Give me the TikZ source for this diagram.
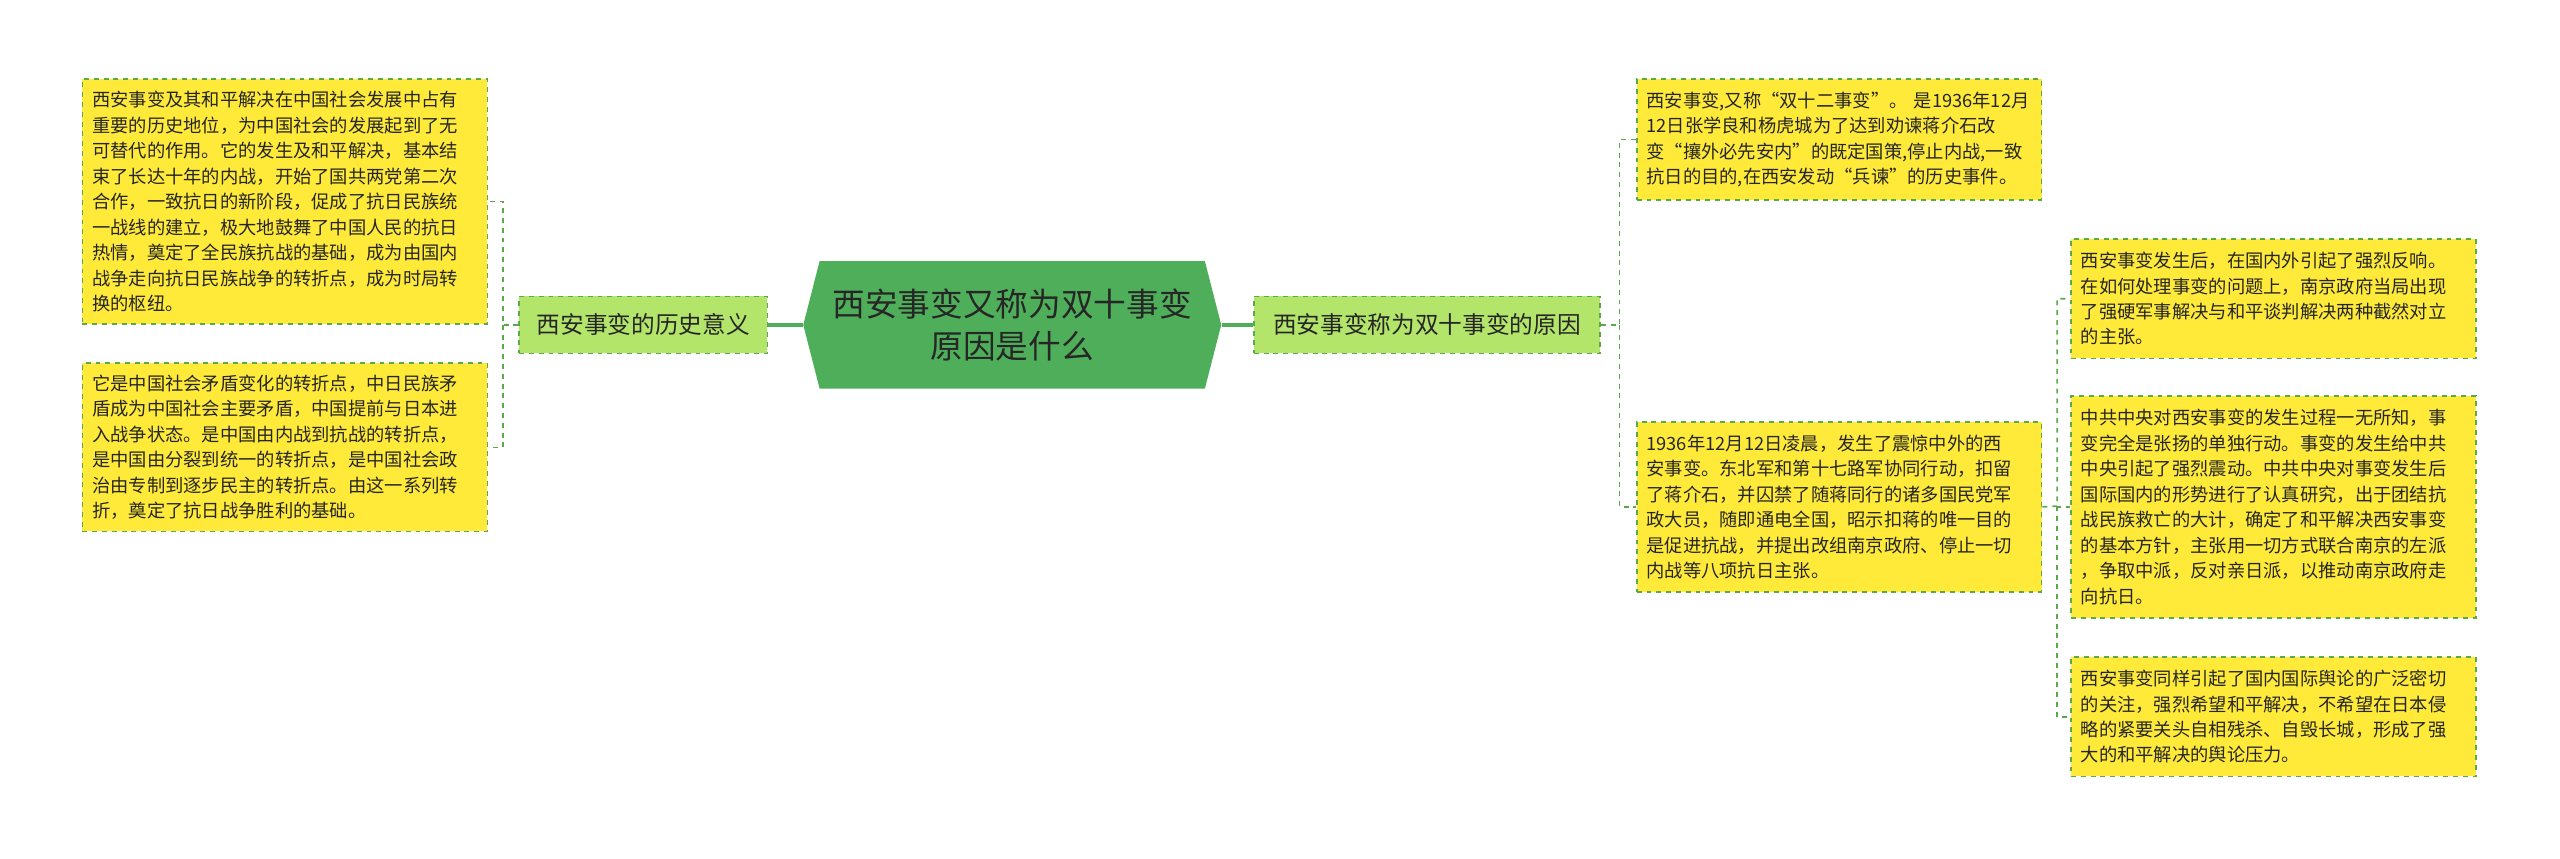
\documentclass[tikz,border=0pt]{standalone}
\usepackage{fontspec}
\setmainfont{Noto Sans CJK SC}
\begin{document}
\begin{tikzpicture}[x=1pt,y=-1pt]
\definecolor{hexg}{HTML}{4FAE5A}
\definecolor{leafy}{HTML}{FFEA3A}
\definecolor{subg}{HTML}{B3E56A}
\definecolor{lineg}{HTML}{5BAA4A}
\tikzset{
  leaf/.style={draw=lineg, dashed, line width=1pt, fill=leafy, text width=236pt, align=left, inner xsep=6pt, inner ysep=0pt, anchor=north west, font=\fontsize{11.2}{15.6}\selectfont, text=black!85},
  sub/.style={draw=lineg, dashed, line width=1pt, fill=subg, minimum height=35pt, inner xsep=8pt, font=\fontsize{14.5}{17}\selectfont, text=black!85},
  con/.style={draw=lineg, dashed, line width=1pt},
  main/.style={draw=hexg, line width=2pt}}
\useasboundingbox (0,0) rectangle (1568,526);
% center
\fill[hexg] (492,199) -- (502,160) -- (738,160) -- (748,199) -- (738,238) -- (502,238) -- cycle;
\node[font=\fontsize{20}{26}\selectfont, align=center, text=black!85, minimum width=256pt, minimum height=78pt, inner sep=0pt] (c) at (620,199) {西安事变又称为双十事变\\原因是什么};
% subs
\node[sub, minimum width=152pt] (hl) at (394,199) {西安事变的历史意义};
\node[sub, minimum width=212pt] (hr) at (874,199) {西安事变称为双十事变的原因};
\draw[main] (c.west) -- (hl.east);
\draw[main] (c.east) -- (hr.west);
% left leaves
\node[leaf, minimum height=150pt] (l1) at (50,48) {西安事变及其和平解决在中国社会发展中占有\\重要的历史地位，为中国社会的发展起到了无\\可替代的作用。它的发生及和平解决，基本结\\束了长达十年的内战，开始了国共两党第二次\\合作，一致抗日的新阶段，促成了抗日民族统\\一战线的建立，极大地鼓舞了中国人民的抗日\\热情，奠定了全民族抗战的基础，成为由国内\\战争走向抗日民族战争的转折点，成为时局转\\换的枢纽。};
\node[leaf, minimum height=103pt] (l2) at (50,222) {它是中国社会矛盾变化的转折点，中日民族矛\\盾成为中国社会主要矛盾，中国提前与日本进\\入战争状态。是中国由内战到抗战的转折点，\\是中国由分裂到统一的转折点，是中国社会政\\治由专制到逐步民主的转折点。由这一系列转\\折，奠定了抗日战争胜利的基础。};
\draw[con] (hl.west) -- (308,199) |- (l1.east);
\draw[con] (308,199) |- (l2.east);
% right leaves
\node[leaf, minimum height=74pt] (ra) at (1002,48) {西安事变,又称“双十二事变”。 是1936年12月\\12日张学良和杨虎城为了达到劝谏蒋介石改\\变“攘外必先安内”的既定国策,停止内战,一致\\抗日的目的,在西安发动“兵谏”的历史事件。};
\node[leaf, minimum height=104pt] (rb) at (1002,258) {1936年12月12日凌晨，发生了震惊中外的西\\安事变。东北军和第十七路军协同行动，扣留\\了蒋介石，并囚禁了随蒋同行的诸多国民党军\\政大员，随即通电全国，昭示扣蒋的唯一目的\\是促进抗战，并提出改组南京政府、停止一切\\内战等八项抗日主张。};
\draw[con] (hr.east) -- (992,199) |- (ra.west);
\draw[con] (992,199) |- (rb.west);
\node[leaf, minimum height=73pt] (rc) at (1268,146) {西安事变发生后，在国内外引起了强烈反响。\\在如何处理事变的问题上，南京政府当局出现\\了强硬军事解决与和平谈判解决两种截然对立\\的主张。};
\node[leaf, minimum height=136pt] (rd) at (1268,242) {中共中央对西安事变的发生过程一无所知，事\\变完全是张扬的单独行动。事变的发生给中共\\中央引起了强烈震动。中共中央对事变发生后\\国际国内的形势进行了认真研究，出于团结抗\\战民族救亡的大计，确定了和平解决西安事变\\的基本方针，主张用一切方式联合南京的左派\\，争取中派，反对亲日派，以推动南京政府走\\向抗日。};
\node[leaf, minimum height=73pt] (re) at (1268,402) {西安事变同样引起了国内国际舆论的广泛密切\\的关注，强烈希望和平解决，不希望在日本侵\\略的紧要关头自相残杀、自毁长城，形成了强\\大的和平解决的舆论压力。};
\draw[con] (rb.east) -- (1260,310) |- (rc.west);
\draw[con] (1260,310) |- (rd.west);
\draw[con] (1260,310) |- (re.west);
\end{tikzpicture}
\end{document}
